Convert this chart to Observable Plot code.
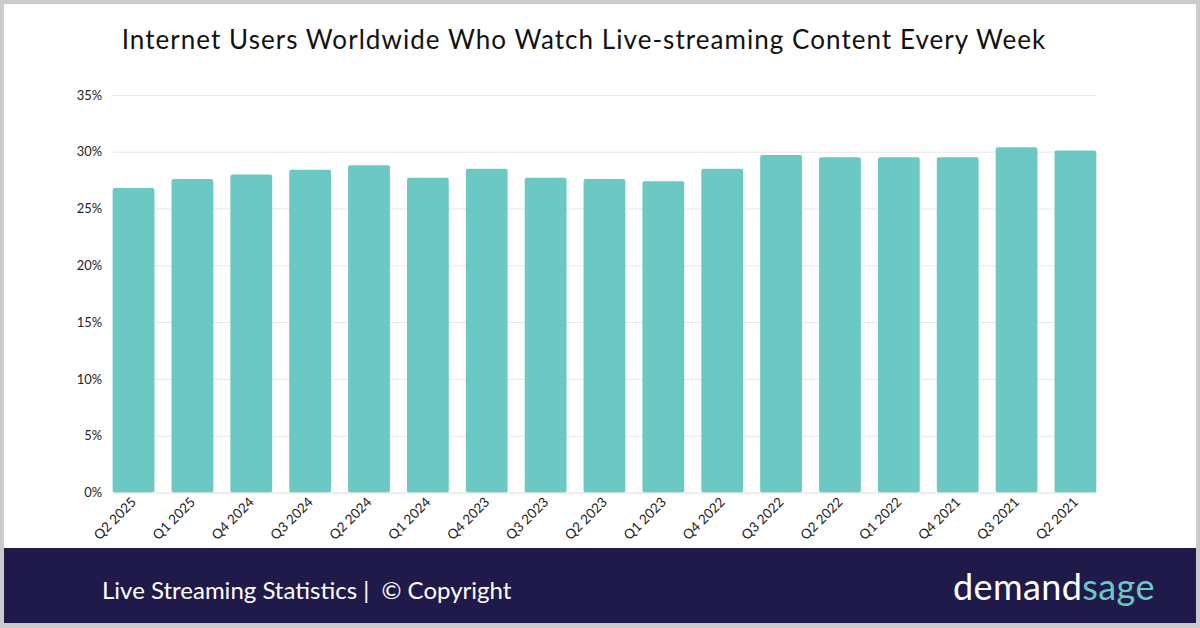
<!DOCTYPE html>
<html><head><meta charset="utf-8">
<script src="https://cdn.jsdelivr.net/npm/d3@7"></script>
<script src="https://cdn.jsdelivr.net/npm/@observablehq/plot@0.6"></script>
<style>
html,body{margin:0;padding:0;background:#fff;}
#frame{position:relative;width:1200px;height:628px;box-sizing:border-box;border:4px solid #cbcbcb;border-bottom-width:5px;overflow:hidden;background:#fff;font-family:Lato,"Open Sans",sans-serif;}
#title{position:absolute;left:0;width:1160px;top:19px;text-align:center;font-size:26px;color:#111;font-weight:400;letter-spacing:1.05px;white-space:nowrap;}
#chart{position:absolute;left:-4px;top:56px;}
#footer{position:absolute;left:0;right:0;top:544px;bottom:0;background:#1f1a4a;}
#caption{position:absolute;left:98px;top:27px;color:#fff;font-size:24px;letter-spacing:0px;}
#logo{position:absolute;left:949px;top:16px;font-size:36px;color:#fff;letter-spacing:0.4px;}
#logo span{color:#6cc8c3;}
</style></head>
<body>
<div id="frame">
  <div id="title">Internet Users Worldwide Who Watch Live-streaming Content Every Week</div>
  <div id="chart"></div>
  <div id="footer">
    <div id="caption">Live Streaming Statistics |&nbsp; © Copyright</div>
    <div id="logo">demand<span>sage</span></div>
  </div>
</div>
<script>
const quarters = ["Q2 2025","Q1 2025","Q4 2024","Q3 2024","Q2 2024","Q1 2024","Q4 2023","Q3 2023","Q2 2023","Q1 2023","Q4 2022","Q3 2022","Q2 2022","Q1 2022","Q4 2021","Q3 2021","Q2 2021"];
const shares = [26.8,27.6,28.0,28.4,28.8,27.7,28.5,27.7,27.6,27.4,28.5,29.7,29.5,29.5,29.5,30.4,30.1];
const yTicks = [0,5,10,15,20,25,30,35];

const data = quarters.map((q,i)=>({quarter:q, share:shares[i]}));

const plot = Plot.plot({
  width: 1200,
  height: 492,
  marginTop: 35,
  marginBottom: 58,
  marginLeft: 113,
  marginRight: 100,
  style: {fontFamily: "Lato, 'Open Sans', sans-serif", fontSize: "13px", color: "#222", background: "transparent"},
  x: {domain: quarters, paddingInner: 0.29, paddingOuter: 0, round: false, label: null},
  y: {domain: [0,35], label: null},
  marks: [
    Plot.gridY(yTicks.filter(d => d > 0), {stroke: "#e6e6e6", strokeOpacity: 1}),
    Plot.barY(data, {x: "quarter", y: "share", fill: "#6cc8c3", rx: 2}),
    Plot.ruleY([0], {stroke: "#dcdcdc"}),
    Plot.axisX({tickSize: 0, tickRotate: -45, tickPadding: 7, fontSize: 13.5}),
    Plot.axisY({ticks: yTicks, tickSize: 0, tickPadding: 11, tickFormat: d => d + "%", fontSize: 13})
  ]
});
document.getElementById("chart").appendChild(plot);
</script>
</body></html>
